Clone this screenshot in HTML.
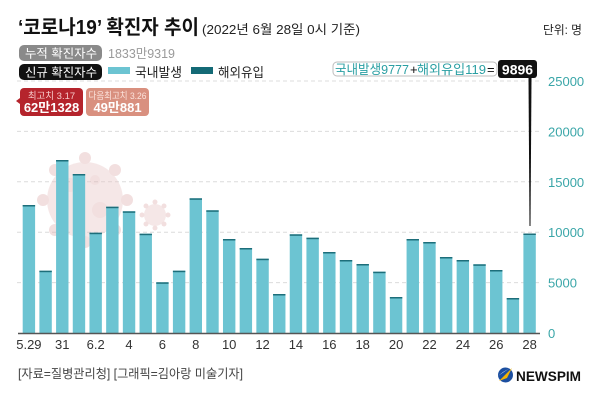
<!DOCTYPE html>
<html><head><meta charset="utf-8">
<style>
html,body{margin:0;padding:0;background:#fff;}
svg{display:block;font-family:"Liberation Sans","Noto Sans CJK KR",sans-serif;}
</style></head>
<body>
<svg width="600" height="400" viewBox="0 0 600 400" xmlns="http://www.w3.org/2000/svg">
<rect width="600" height="400" fill="#fff"/>
<!-- title -->
<text x="18" y="34" font-size="20" font-weight="bold" fill="#111" textLength="181" lengthAdjust="spacingAndGlyphs">‘코로나19’ 확진자 추이</text>
<text x="202" y="34" font-size="13" fill="#222" textLength="158" lengthAdjust="spacingAndGlyphs">(2022년 6월 28일 0시 기준)</text>
<text x="543" y="34" font-size="12" fill="#222" textLength="39" lengthAdjust="spacingAndGlyphs">단위: 명</text>

<!-- badges -->
<rect x="19" y="45" width="83" height="16" rx="5" fill="#8a8a8a"/>
<text x="25" y="57.5" font-size="12" fill="#fff" textLength="72" lengthAdjust="spacingAndGlyphs">누적 확진자수</text>
<text x="108" y="58" font-size="13" fill="#9a9a9a" textLength="67" lengthAdjust="spacingAndGlyphs">1833만9319</text>
<rect x="19" y="64" width="83" height="16" rx="5" fill="#111"/>
<text x="25" y="76.5" font-size="12" fill="#fff" textLength="72" lengthAdjust="spacingAndGlyphs">신규 확진자수</text>
<rect x="108" y="67" width="22" height="7" fill="#6cc4d2"/>
<text x="135" y="77" font-size="13" fill="#222" textLength="47" lengthAdjust="spacingAndGlyphs">국내발생</text>
<rect x="191" y="67" width="22" height="7" fill="#146a76"/>
<text x="218" y="77" font-size="13" fill="#222" textLength="46" lengthAdjust="spacingAndGlyphs">해외유입</text>

<!-- gridlines -->
<g stroke="#dcdcdc" stroke-width="1" stroke-dasharray="4,3">
<line x1="17" y1="81" x2="540" y2="81"/>
<line x1="17" y1="131.4" x2="540" y2="131.4"/>
<line x1="17" y1="181.8" x2="540" y2="181.8"/>
<line x1="17" y1="232.2" x2="540" y2="232.2"/>
<line x1="17" y1="282.6" x2="540" y2="282.6"/>
</g>
<g font-size="13" fill="#3aa6a8">
<text x="548" y="86">25000</text>
<text x="548" y="136.4">20000</text>
<text x="548" y="186.8">15000</text>
<text x="548" y="237.2">10000</text>
<text x="548" y="287.6">5000</text>
<text x="548" y="338">0</text>
</g>

<!-- virus decoration -->
<g opacity="0.4">
<circle cx="85" cy="200" r="38" fill="#e8c4c4"/>
<g fill="#dfb0b0">
<circle cx="85" cy="158" r="6"/><circle cx="85" cy="242" r="6"/>
<circle cx="43" cy="200" r="6"/><circle cx="127" cy="200" r="6"/>
<circle cx="55" cy="170" r="6"/><circle cx="115" cy="170" r="6"/>
<circle cx="55" cy="230" r="6"/><circle cx="115" cy="230" r="6"/>
<circle cx="70" cy="185" r="7"/><circle cx="100" cy="210" r="8"/><circle cx="95" cy="180" r="5"/>
</g>
<circle cx="155" cy="215" r="11" fill="#e8c4c4"/>
<g fill="#dfb0b0">
<circle cx="155" cy="202" r="2.5"/><circle cx="155" cy="228" r="2.5"/>
<circle cx="142" cy="215" r="2.5"/><circle cx="168" cy="215" r="2.5"/>
<circle cx="146" cy="206" r="2.5"/><circle cx="164" cy="206" r="2.5"/>
<circle cx="146" cy="224" r="2.5"/><circle cx="164" cy="224" r="2.5"/>
</g>
</g>

<!-- highlight boxes -->
<polygon points="16,101 20,98 20,104" fill="#b5242c"/>
<rect x="20" y="88" width="63" height="28" rx="4" fill="#b5242c"/>
<text x="51.5" y="99" font-size="9.5" fill="#f6caca" text-anchor="middle">최고치 3.17</text>
<text x="51.5" y="112" font-size="13" font-weight="bold" fill="#fff" text-anchor="middle">62만1328</text>
<rect x="86" y="88" width="63" height="28" rx="4" fill="#d9907f"/>
<text x="117.5" y="99" font-size="9.5" fill="#fbe3dc" text-anchor="middle" textLength="58" lengthAdjust="spacingAndGlyphs">다음최고치 3.26</text>
<text x="117.5" y="112" font-size="13" font-weight="bold" fill="#fff" text-anchor="middle">49만881</text>

<!-- bars -->
<g fill="#6cc4d2">
<rect x="22.70" y="205" width="12.4" height="128"/>
<rect x="39.39" y="270.7" width="12.4" height="62.3"/>
<rect x="56.08" y="160" width="12.4" height="173"/>
<rect x="72.77" y="174" width="12.4" height="159"/>
<rect x="89.46" y="232.7" width="12.4" height="100.3"/>
<rect x="106.15" y="206.7" width="12.4" height="126.3"/>
<rect x="122.84" y="211.3" width="12.4" height="121.7"/>
<rect x="139.53" y="233.7" width="12.4" height="99.3"/>
<rect x="156.22" y="282.3" width="12.4" height="50.7"/>
<rect x="172.91" y="270.7" width="12.4" height="62.3"/>
<rect x="189.60" y="198.3" width="12.4" height="134.7"/>
<rect x="206.29" y="210.3" width="12.4" height="122.7"/>
<rect x="222.98" y="239" width="12.4" height="94"/>
<rect x="239.67" y="248" width="12.4" height="85"/>
<rect x="256.36" y="258.7" width="12.4" height="74.3"/>
<rect x="273.05" y="294" width="12.4" height="39"/>
<rect x="289.74" y="234.3" width="12.4" height="98.7"/>
<rect x="306.43" y="237.7" width="12.4" height="95.3"/>
<rect x="323.12" y="252" width="12.4" height="81"/>
<rect x="339.81" y="260" width="12.4" height="73"/>
<rect x="356.50" y="264" width="12.4" height="69"/>
<rect x="373.19" y="271.7" width="12.4" height="61.3"/>
<rect x="389.88" y="297" width="12.4" height="36"/>
<rect x="406.57" y="239" width="12.4" height="94"/>
<rect x="423.26" y="242" width="12.4" height="91"/>
<rect x="439.95" y="257" width="12.4" height="76"/>
<rect x="456.64" y="260" width="12.4" height="73"/>
<rect x="473.33" y="264.3" width="12.4" height="68.7"/>
<rect x="490.02" y="270" width="12.4" height="63"/>
<rect x="506.71" y="298" width="12.4" height="35"/>
<rect x="523.40" y="233.5" width="12.4" height="99.5"/>
</g>
<g fill="#1d6e7a">
<rect x="22.70" y="205" width="12.4" height="1.5"/>
<rect x="39.39" y="270.7" width="12.4" height="1.5"/>
<rect x="56.08" y="160" width="12.4" height="1.5"/>
<rect x="72.77" y="174" width="12.4" height="1.5"/>
<rect x="89.46" y="232.7" width="12.4" height="1.5"/>
<rect x="106.15" y="206.7" width="12.4" height="1.5"/>
<rect x="122.84" y="211.3" width="12.4" height="1.5"/>
<rect x="139.53" y="233.7" width="12.4" height="1.5"/>
<rect x="156.22" y="282.3" width="12.4" height="1.5"/>
<rect x="172.91" y="270.7" width="12.4" height="1.5"/>
<rect x="189.60" y="198.3" width="12.4" height="1.5"/>
<rect x="206.29" y="210.3" width="12.4" height="1.5"/>
<rect x="222.98" y="239" width="12.4" height="1.5"/>
<rect x="239.67" y="248" width="12.4" height="1.5"/>
<rect x="256.36" y="258.7" width="12.4" height="1.5"/>
<rect x="273.05" y="294" width="12.4" height="1.5"/>
<rect x="289.74" y="234.3" width="12.4" height="1.5"/>
<rect x="306.43" y="237.7" width="12.4" height="1.5"/>
<rect x="323.12" y="252" width="12.4" height="1.5"/>
<rect x="339.81" y="260" width="12.4" height="1.5"/>
<rect x="356.50" y="264" width="12.4" height="1.5"/>
<rect x="373.19" y="271.7" width="12.4" height="1.5"/>
<rect x="389.88" y="297" width="12.4" height="1.5"/>
<rect x="406.57" y="239" width="12.4" height="1.5"/>
<rect x="423.26" y="242" width="12.4" height="1.5"/>
<rect x="439.95" y="257" width="12.4" height="1.5"/>
<rect x="456.64" y="260" width="12.4" height="1.5"/>
<rect x="473.33" y="264.3" width="12.4" height="1.5"/>
<rect x="490.02" y="270" width="12.4" height="1.5"/>
<rect x="506.71" y="298" width="12.4" height="1.5"/>
<rect x="523.40" y="233.5" width="12.4" height="1.5"/>
</g>

<!-- axis -->
<line x1="18" y1="333.5" x2="540" y2="333.5" stroke="#555" stroke-width="1.5"/>

<!-- x labels -->
<g font-size="13" fill="#333" text-anchor="middle">
<text x="28.9" y="349">5.29</text>
<text x="62.28" y="349">31</text>
<text x="95.66" y="349">6.2</text>
<text x="129.04" y="349">4</text>
<text x="162.42" y="349">6</text>
<text x="195.8" y="349">8</text>
<text x="229.18" y="349">10</text>
<text x="262.56" y="349">12</text>
<text x="295.94" y="349">14</text>
<text x="329.32" y="349">16</text>
<text x="362.7" y="349">18</text>
<text x="396.08" y="349">20</text>
<text x="429.46" y="349">22</text>
<text x="462.84" y="349">24</text>
<text x="496.22" y="349">26</text>
<text x="529.6" y="349">28</text>
</g>

<!-- callout -->
<polygon points="528.5,78 531.5,78 530.5,226 529.5,226" fill="#111"/>
<rect x="333" y="62" width="164" height="14" rx="4" fill="#fff" stroke="#bdbdbd" stroke-width="1"/>
<text x="335" y="74" font-size="13" fill="#2a9fa3" textLength="74" lengthAdjust="spacingAndGlyphs">국내발생9777</text>
<text x="410" y="74" font-size="13" fill="#111">+</text>
<text x="417" y="74" font-size="13" fill="#2a9fa3" textLength="69" lengthAdjust="spacingAndGlyphs">해외유입119</text>
<text x="487" y="74" font-size="13" fill="#111">=</text>
<rect x="498" y="60" width="39" height="18" rx="3" fill="#111"/>
<text x="517.5" y="74.5" font-size="14" font-weight="bold" fill="#fff" text-anchor="middle">9896</text>

<!-- footer -->
<text x="18" y="378" font-size="12.5" fill="#444" textLength="225" lengthAdjust="spacingAndGlyphs">[자료=질병관리청] [그래픽=김아랑 미술기자]</text>
<circle cx="505.5" cy="375" r="7.5" fill="#1c4fa0"/>
<path d="M499,381 L512,368 L507,378 Z" fill="#f4b400"/>
<path d="M498,376 L510,368 L503,372 Z" fill="#ffffff" opacity="0.8"/>
<text x="516" y="381" font-size="14" font-weight="bold" fill="#111" textLength="65" lengthAdjust="spacingAndGlyphs">NEWSPIM</text>
</svg>
</body></html>
